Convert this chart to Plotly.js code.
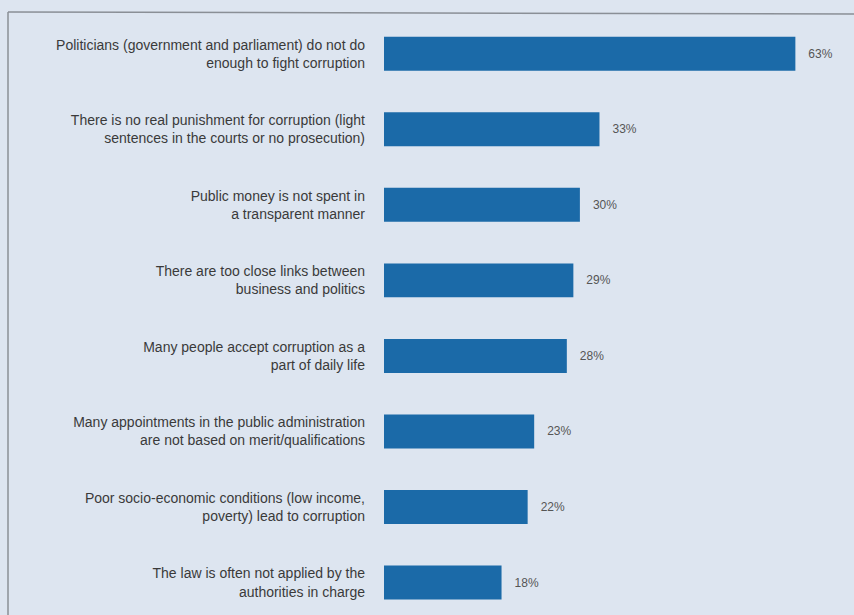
<!DOCTYPE html>
<html>
<head>
<meta charset="utf-8">
<script src="https://cdn.plot.ly/plotly-3.0.1.min.js"></script>
<style>
html,body{margin:0;padding:0;background:#dde5f0;}
#chart{width:854px;height:615px;}
</style>
</head>
<body>
<div id="chart"></div>
<script>
var categories = [
  "Politicians (government and parliament) do not do<br>enough to fight corruption",
  "There is no real punishment for corruption (light<br>sentences in the courts or no prosecution)",
  "Public money is not spent in<br>a transparent manner",
  "There are too close links between<br>business and politics",
  "Many people accept corruption as a<br>part of daily life",
  "Many appointments in the public administration<br>are not based on merit/qualifications",
  "Poor socio-economic conditions (low income,<br>poverty) lead to corruption",
  "The law is often not applied by the<br>authorities in charge"
];
var values = [63, 33, 30, 29, 28, 23, 22, 18];
var valueLabels = values.map(function(v){ return v + "%"; });

var L = 384, W = 854 - L - 9;
function px(p){ return (p - L) / W; }

var trace = {
  type: "bar",
  orientation: "h",
  y: categories,
  x: values,
  text: valueLabels,
  texttemplate: "   %{text}",
  textposition: "outside",
  textfont: {family: "Liberation Sans, Arial", size: 12, color: "#555555"},
  cliponaxis: false,
  marker: {color: "#1b6aa8"},
  width: 0.45,
  hoverinfo: "none"
};

var layout = {
  width: 854,
  height: 615,
  margin: {l: L, r: 9, t: 16, b: 0, pad: 0},
  paper_bgcolor: "#dde5f0",
  plot_bgcolor: "rgba(0,0,0,0)",
  showlegend: false,
  font: {family: "Liberation Sans, Arial", color: "#3a3a3a"},
  xaxis: {
    range: [0, 70.6],
    visible: false,
    fixedrange: true
  },
  yaxis: {
    type: "category",
    range: [7.43, -0.5],
    showgrid: false,
    zeroline: false,
    showline: false,
    ticks: "",
    ticklabelstandoff: 18,
    tickfont: {size: 14, color: "#3a3a3a"},
    fixedrange: true
  },
  shapes: [
    {type: "line", xref: "paper", yref: "paper", x0: px(8), x1: px(854), y0: 1 + 4/599, y1: 1 + 2/599,
     line: {color: "#8a8f96", width: 1.5}},
    {type: "line", xref: "paper", yref: "paper", x0: px(8), x1: px(8), y0: 1 + 4/599, y1: -0.02,
     line: {color: "#8a8f96", width: 1.5}}
  ]
};

Plotly.newPlot("chart", [trace], layout, {displayModeBar: false, staticPlot: true});
</script>
</body>
</html>
